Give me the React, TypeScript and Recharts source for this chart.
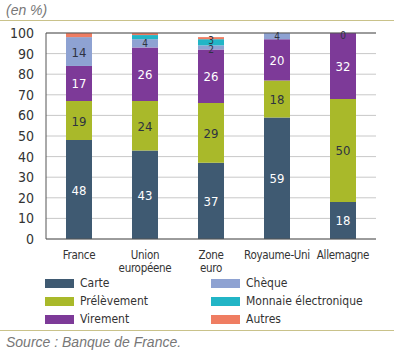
import { BarChart, Bar, XAxis, YAxis, CartesianGrid, LabelList, ReferenceLine } from 'recharts';

const countries = ['France', 'Union\neuropéene', 'Zone\neuro', 'Royaume-Uni', 'Allemagne'];
const carte = [48, 43, 37, 59, 18];
const prelevement = [19, 24, 29, 18, 50];
const virement = [17, 26, 26, 20, 32];
const cheque = [14, 4, 2, 4, 0];
const monnaie = [0, 2, 3, 0, 0];
const autres = [2, 1, 1, 0, 0];
const yTicks = [0, 10, 20, 30, 40, 50, 60, 70, 80, 90, 100];

const data = countries.map((name, i) => ({
  name,
  carte: carte[i],
  prelevement: prelevement[i],
  virement: virement[i],
  cheque: cheque[i],
  monnaie: monnaie[i],
  autres: autres[i],
}));

const series = [
  { key: 'carte', label: 'Carte', color: '#3f5a72', text: '#ffffff' },
  { key: 'prelevement', label: 'Prélèvement', color: '#a9b92a', text: '#2e3340' },
  { key: 'virement', label: 'Virement', color: '#7d3a98', text: '#ffffff' },
  { key: 'cheque', label: 'Chèque', color: '#8ea2d2', text: '#2e3340' },
  { key: 'monnaie', label: 'Monnaie électronique', color: '#22b5c6', text: '#2e3340' },
  { key: 'autres', label: 'Autres', color: '#ef7d62', text: '#2e3340' },
];

const FONT = '"DejaVu Sans Condensed", "DejaVu Sans", sans-serif';
const ITALIC = '"Liberation Sans", Arial, sans-serif';

const CountryTick = (props: any) => {
  const { x, y, payload } = props;
  const lines = String(payload.value).split('\n');
  return (
    <text x={x} y={y} textAnchor="middle" fontFamily={FONT} fontSize={11.5} letterSpacing={-0.3} fill="#333">
      {lines.map((l, i) => (
        <tspan key={i} x={x} dy={i === 0 ? 12 : 13}>{l}</tspan>
      ))}
    </text>
  );
};

const makeLabel = (color: string, key: string) => (props: any) => {
  const { x, y, width, height, value } = props;
  if (key === 'monnaie' && value < 3) return null;
  if (key === 'autres') return null;
  const small = value < 5;
  // nudge tiny stacked labels apart so they stay readable
  const nudge = key === 'monnaie' ? -2 : key === 'cheque' && value < 3 ? 2 : 0;
  return (
    <text x={x + width / 2} y={y + height / 2 + (small ? 4 : 5) + nudge} textAnchor="middle" fontFamily={FONT} fontSize={small ? 10 : 13} fill={color}>
      {value}
    </text>
  );
};

export default function App() {
  return (
    <div style={{ position: 'absolute', left: 0, top: 0, width: 400, height: 358, background: '#fff', fontFamily: FONT }}>
      <div style={{ position: 'absolute', left: 6, top: 2, fontSize: 14, fontStyle: 'italic', color: '#777', fontFamily: ITALIC }}>(en %)</div>
      <div style={{ position: 'absolute', left: 0, top: 20, width: 394, height: 1, background: '#c9c28a' }} />
      <BarChart width={400} height={358} data={data} barSize={26} margin={{ top: 33, right: 24, bottom: 89, left: 6 }}>
        <CartesianGrid vertical={false} stroke="#c8c8c8" />
        <XAxis dataKey="name" interval={0} tick={<CountryTick />} tickLine={false} axisLine={{ stroke: '#555' }} height={30} />
        <YAxis domain={[0, 100]} ticks={yTicks} interval={0} allowDataOverflow tickLine={false} axisLine={{ stroke: '#555' }} width={40}
          tick={{ fontFamily: FONT, fontSize: 14, fill: '#333' }} tickMargin={6} />
        <YAxis yAxisId="r" orientation="right" domain={[0, 100]} tick={false} tickLine={false} axisLine={{ stroke: '#555' }} width={0} />
        <ReferenceLine y={100} stroke="#555" />
        {series.map((s) => (
          <Bar key={s.key} dataKey={s.key} stackId="a" fill={s.color} isAnimationActive={false}
            minPointSize={s.key === 'cheque' ? 1 : 0}>
            <LabelList dataKey={s.key} content={makeLabel(s.text, s.key)} />
          </Bar>
        ))}
      </BarChart>
      <div style={{ position: 'absolute', left: 0, top: 275, width: 400, height: 56, fontSize: 12, color: '#333' }}>
        {series.map((s, i) => {
          const col = i < 3 ? 0 : 1;
          const row = i % 3;
          return (
            <div key={s.key} style={{ position: 'absolute', left: col === 0 ? 45 : 211, top: row * 18, display: 'flex', alignItems: 'center', height: 16 }}>
              <span style={{ display: 'inline-block', width: 29, height: 9, background: s.color, marginRight: 6 }} />
              <span>{s.label}</span>
            </div>
          );
        })}
      </div>
      <div style={{ position: 'absolute', left: 0, top: 330, width: 394, height: 1, background: '#c9c28a' }} />
      <div style={{ position: 'absolute', left: 6, top: 334, fontSize: 14, fontStyle: 'italic', color: '#777', fontFamily: ITALIC }}>Source : Banque de France.</div>
    </div>
  );
}
